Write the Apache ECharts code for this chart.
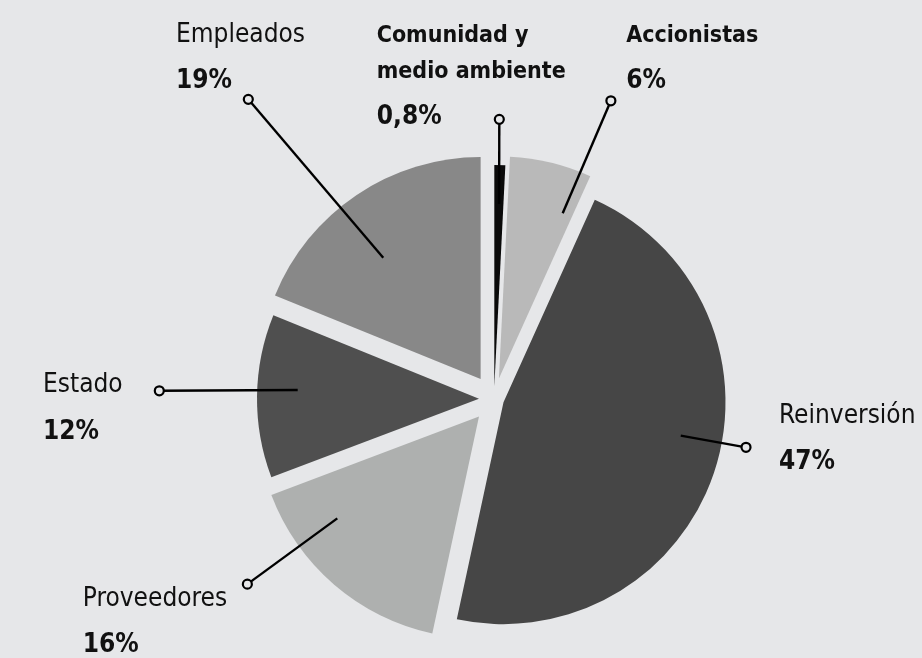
<!DOCTYPE html>
<html><head><meta charset="utf-8">
<script src="https://cdn.jsdelivr.net/npm/echarts@6/dist/echarts.min.js"></script>
<style>html,body{margin:0;padding:0;background:#e6e7e9}#c{width:922px;height:658px}</style>
</head><body><div id="c"></div>
<script>
// ---- data ----
const categories = ['Comunidad y medio ambiente', 'Accionistas', 'Reinversión', 'Proveedores', 'Estado', 'Empleados'];
const shares = [0.8, 6, 47, 16, 12, 19];

// ---- style / layout ----
const BG = '#e6e7e9';
const FONT = "'DejaVu Sans Condensed','Liberation Sans Narrow',sans-serif";
const CENTER = [494, 399];
const RADIUS = 222;
const explode = [12, 21, 10, 23, 15, 24];
const colors = ['#0a0a0a', '#b9b9b9', '#464646', '#aeb0af', '#4f4f4f', '#888888'];
const boldName = [true, true, false, false, false, false];
const leaderR = [[195, 279.7], [198, 320.3], [190.3, 256.6], [197, 308.4], [196.5, 334.8], [179.5, 387.5]];
const leaderAdj = [[0.07, -0.34], [6.73, 7.83], [-7.11, -7.36], [11.99, 12.39], [1.89, 0.69], [-4.17, -5.42]];
const labelBox = [[-122.6, -101.1, 36, 54], [15.3, -88.2, 46, 46], [33, -53.85, 46, 46], [-164.6, -7.85, 46, 46], [-116.3, -28.85, 46, 48], [-72.3, -87.45, 46, 46]];

const total = shares.reduce((a, b) => a + b, 0);
const mids = [];
let cum = 0;
shares.forEach(v => { mids.push((cum + v / 2) / total * 360); cum += v; });

function wrap(name) {
  const words = name.split(' ');
  const lines = [];
  let cur = '';
  words.forEach(w => {
    const t = cur ? cur + ' ' + w : w;
    if (t.length > 14 && cur) { lines.push(cur); cur = w; } else cur = t;
  });
  lines.push(cur);
  return lines;
}
const fmtPct = v => String(v).replace('.', ',') + '%';

const series = [];
categories.forEach((_, k) => {
  series.push({
    type: 'pie', center: CENTER, radius: RADIUS, startAngle: 90, clockwise: true,
    silent: true, selectedMode: 'single', selectedOffset: explode[k],
    avoidLabelOverlap: false, label: { show: false }, labelLine: { show: false },
    emphasis: { disabled: true }, z: 2,
    data: categories.map((name, i) => ({
      name, value: shares[i], selected: i === k,
      itemStyle: { color: i === k ? colors[i] : 'rgba(0,0,0,0)', borderWidth: 0 },
      select: { itemStyle: { color: i === k ? colors[i] : 'rgba(0,0,0,0)', borderWidth: 0 } }
    }))
  });
});

categories.forEach((_, i) => {
  series.push({
    type: 'line', coordinateSystem: 'polar', silent: true, symbol: 'none', z: 3,
    lineStyle: { color: '#000', width: 2.4 },
    data: [[leaderR[i][0], mids[i] + leaderAdj[i][0]], [leaderR[i][1], mids[i] + leaderAdj[i][1]]]
  });
});

series.push({
  type: 'scatter', coordinateSystem: 'polar', silent: true, z: 4,
  symbol: 'circle', symbolSize: 9,
  itemStyle: { color: BG, borderColor: '#000', borderWidth: 2.2, opacity: 1 },
  data: categories.map((name, i) => ({
    name, value: [leaderR[i][1], mids[i] + leaderAdj[i][1]],
    label: {
      show: true, position: 'inside', align: 'left', verticalAlign: 'top',
      offset: [labelBox[i][0], labelBox[i][1]],
      formatter: () => {
        const tag = boldName[i] ? 'nb' : 'n';
        return wrap(name).map(l => '{' + tag + '|' + l + '}').join('\n') + '\n{p|' + fmtPct(shares[i]) + '}';
      },
      rich: {
        n: { fontFamily: FONT, fontSize: 26, fontWeight: 'normal', color: '#111', lineHeight: labelBox[i][2] },
        nb: { fontFamily: FONT, fontSize: 23, fontWeight: 'bold', color: '#111', lineHeight: labelBox[i][2] },
        p: { fontFamily: FONT, fontSize: 26, fontWeight: 'bold', color: '#111', lineHeight: labelBox[i][3] }
      }
    }
  }))
});

const chart = echarts.init(document.getElementById('c'), null, { renderer: 'canvas' });
chart.setOption({
  backgroundColor: BG,
  animation: false,
  polar: { center: CENTER, radius: 400 },
  angleAxis: { type: 'value', min: 0, max: 360, startAngle: 90, clockwise: true, show: false },
  radiusAxis: { type: 'value', min: 0, max: 400, show: false },
  series
});
</script></body></html>
